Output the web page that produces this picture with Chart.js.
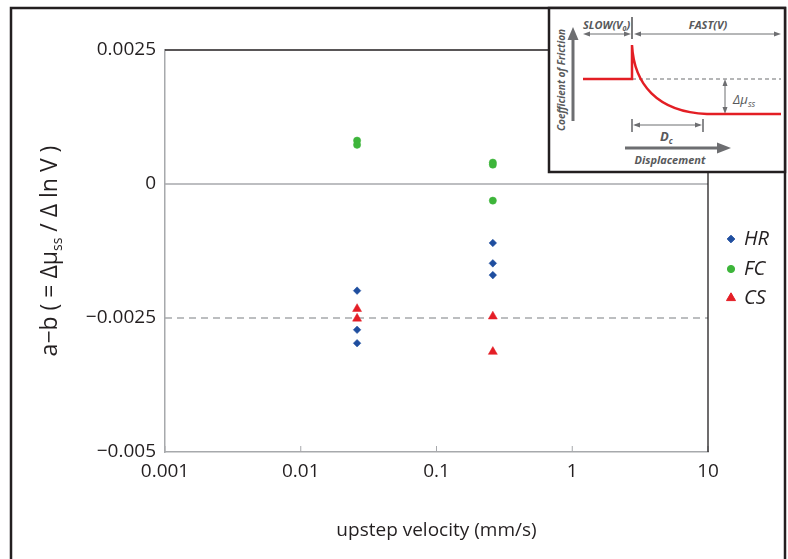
<!DOCTYPE html>
<html>
<head>
<meta charset="utf-8">
<script src="https://cdn.jsdelivr.net/npm/chart.js@4.4.0/dist/chart.umd.min.js"></script>
<style>
  body { margin: 0; background: #fff; }
  #wrap { position: relative; width: 788px; height: 559px; overflow: hidden; }
  #chart, #inset { position: absolute; left: 0; top: 0; }
  #inset text { font-family: 'Open Sans', sans-serif; font-style: italic; font-weight: bold; fill: #58595b; }
</style>
</head>
<body>
<div id="wrap">
  <canvas id="chart" width="788" height="559"></canvas>
  <svg id="inset" width="788" height="559">
    <!-- outer frame -->
    <rect x="11" y="8" width="774" height="620" fill="none" stroke="#231f20" stroke-width="2.5"/>
    <!-- schematic box -->
    <rect x="549" y="8" width="236" height="164" fill="#fff" stroke="#231f20" stroke-width="2.5"/>
    <g stroke="#6d6e71" fill="none">
      <line x1="586" y1="34" x2="628" y2="34" stroke-width="1"/>
      <line x1="637" y1="34" x2="778" y2="34" stroke-width="1"/>
      <line x1="632" y1="17" x2="632" y2="39" stroke="#58595b" stroke-width="1.6"/>
      <line x1="573" y1="121" x2="573" y2="38" stroke-width="3"/>
      <line x1="632" y1="79" x2="781" y2="79" stroke-width="1.2" stroke-dasharray="4,3"/>
      <line x1="725" y1="82" x2="725" y2="111" stroke-width="1"/>
      <line x1="632" y1="119" x2="632" y2="132" stroke-width="1.6"/>
      <line x1="703" y1="119" x2="703" y2="132" stroke-width="1.6"/>
      <line x1="635" y1="125" x2="700" y2="125" stroke-width="1"/>
      <line x1="625" y1="148" x2="718" y2="148" stroke-width="3"/>
    </g>
    <g fill="#6d6e71">
      <polygon points="583,34 590,31.5 590,36.5"/>
      <polygon points="631,34 624,31.5 624,36.5"/>
      <polygon points="634,34 641,31.5 641,36.5"/>
      <polygon points="781,34 774,31.5 774,36.5"/>
      <polygon points="573,27 567.5,40 578.5,40"/>
      <polygon points="725,79 722.5,86 727.5,86"/>
      <polygon points="725,114 722.5,107 727.5,107"/>
      <polygon points="633,125 640,122.5 640,127.5"/>
      <polygon points="702,125 695,122.5 695,127.5"/>
      <polygon points="731,148 717,142.5 717,153.5"/>
    </g>
    <path d="M583,79 L632,79 L632,45 C634,84 657,112 707,114 L781,114" fill="none" stroke="#e31e24" stroke-width="2.5"/>
    <text x="583" y="29" font-size="11">SLOW(V<tspan font-size="7" dy="2">0</tspan><tspan dy="-2">)</tspan></text>
    <text x="708" y="29" font-size="11" text-anchor="middle">FAST(V)</text>
    <text transform="translate(565,80) rotate(-90)" font-size="10" text-anchor="middle">Coefficient of Friction</text>
    <text x="733" y="104" font-size="13" style="font-weight:normal">Δμ<tspan font-size="8.5" dy="3">ss</tspan></text>
    <text x="660" y="141" font-size="13">D<tspan font-size="8" dy="3">c</tspan></text>
    <text x="670" y="164" font-size="11" text-anchor="middle">Displacement</text>
  </svg>
</div>
<script>
const hrX = [0.026, 0.026, 0.026, 0.26, 0.26, 0.26];
const hrY = [-0.00199, -0.00272, -0.00297, -0.00110, -0.00148, -0.00170];
const fcX = [0.026, 0.026, 0.26, 0.26, 0.26];
const fcY = [0.00081, 0.00073, 0.00040, 0.00036, -0.00031];
const csX = [0.026, 0.026, 0.26, 0.26];
const csY = [-0.00233, -0.00251, -0.00247, -0.00313];

const xTicks = [0.001, 0.01, 0.1, 1, 10];
const xTickLabels = ['0.001', '0.01', '0.1', '1', '10'];
const yTicks = [0.0025, 0, -0.0025, -0.005];
const yTickLabels = ['0.0025', '0', '\u22120.0025', '\u22120.005'];

const FONT = "'Open Sans', sans-serif";
const INK = '#231f20';
const AXIS_GREY = '#a7a9ac';

const toPoints = (xs, ys) => xs.map((x, i) => ({ x: x, y: ys[i] }));

const series = [
    { label: 'HR', data: toPoints(hrX, hrY), color: '#1f4e9f', style: 'rectRot', radius: 3.8 },
    { label: 'FC', data: toPoints(fcX, fcY), color: '#3db53a', style: 'circle', radius: 3.6 },
    { label: 'CS', data: toPoints(csX, csY), color: '#e41e26', style: 'triangle', radius: 5.2 }
];

const decorations = {
    id: 'decorations',
    beforeDatasetsDraw(chart) {
        const { ctx, chartArea: area, scales } = chart;
        const y = scales.y, x = scales.x;
        ctx.save();
        // zero line
        ctx.strokeStyle = AXIS_GREY;
        ctx.lineWidth = 1.5;
        ctx.beginPath();
        ctx.moveTo(area.left, y.getPixelForValue(0));
        ctx.lineTo(area.right, y.getPixelForValue(0));
        ctx.stroke();
        // dashed line at -0.0025
        ctx.setLineDash([7, 5]);
        ctx.beginPath();
        ctx.moveTo(area.left, y.getPixelForValue(-0.0025));
        ctx.lineTo(area.right, y.getPixelForValue(-0.0025));
        ctx.stroke();
        ctx.setLineDash([]);
        // inner tick marks on the x axis
        ctx.lineWidth = 1;
        xTicks.forEach(v => {
            const px = x.getPixelForValue(v);
            ctx.beginPath();
            ctx.moveTo(px, area.bottom);
            ctx.lineTo(px, area.bottom - 6);
            ctx.stroke();
        });
        // top and right frame
        ctx.strokeStyle = INK;
        ctx.lineWidth = 1.3;
        ctx.beginPath();
        ctx.moveTo(area.left, area.top);
        ctx.lineTo(area.right, area.top);
        ctx.lineTo(area.right, area.bottom);
        ctx.stroke();
        ctx.restore();
    },
    afterDraw(chart) {
        const { ctx, chartArea: area } = chart;
        ctx.save();
        ctx.fillStyle = INK;

        // x title
        ctx.font = '19px ' + FONT;
        ctx.textAlign = 'center';
        ctx.textBaseline = 'middle';
        ctx.fillText('upstep velocity (mm/s)', (area.left + area.right) / 2, 531);

        // y title with subscript
        const big = '23px ' + FONT, small = '14px ' + FONT;
        const part1 = 'a\u2212b ( = \u0394\u03bc', sub = 'ss', part2 = ' / \u0394 ln V )';
        ctx.font = big;
        const w1 = ctx.measureText(part1).width, w3 = ctx.measureText(part2).width;
        ctx.font = small;
        const w2 = ctx.measureText(sub).width;
        const total = w1 + w2 + w3;
        ctx.translate(57, 251);
        ctx.rotate(-Math.PI / 2);
        ctx.textAlign = 'left';
        ctx.textBaseline = 'alphabetic';
        let pos = -total / 2;
        ctx.font = big;
        ctx.fillText(part1, pos, 0);
        pos += w1;
        ctx.font = small;
        ctx.fillText(sub, pos, 5);
        pos += w2;
        ctx.font = big;
        ctx.fillText(part2, pos, 0);
        ctx.restore();

        // legend
        ctx.save();
        const rows = [239, 269, 298];
        chart.data.datasets.forEach((ds, i) => {
            ctx.fillStyle = ds.backgroundColor;
            ctx.strokeStyle = ds.borderColor;
            Chart.helpers.drawPoint(ctx, {
                pointStyle: ds.pointStyle,
                radius: ds.pointRadius,
                borderWidth: 0.5,
                rotation: 0
            }, 731, rows[i]);
            ctx.fillStyle = INK;
            ctx.font = 'italic 20px ' + FONT;
            ctx.textAlign = 'left';
            ctx.textBaseline = 'middle';
            ctx.fillText(ds.label, 744, rows[i]);
        });
        ctx.restore();
    }
};

new Chart(document.getElementById('chart'), {
    type: 'scatter',
    data: {
        datasets: series.map(s => ({
            label: s.label,
            data: s.data,
            pointStyle: s.style,
            pointRadius: s.radius,
            pointHoverRadius: s.radius,
            backgroundColor: s.color,
            borderColor: s.color,
            borderWidth: 0.5
        }))
    },
    options: {
        responsive: false,
        animation: false,
        layout: { padding: { top: 50, right: 80, left: 0, bottom: 0 } },
        plugins: {
            legend: { display: false },
            tooltip: { enabled: false }
        },
        scales: {
            x: {
                type: 'logarithmic',
                min: 0.001,
                max: 10,
                afterBuildTicks: scale => { scale.ticks = xTicks.map(v => ({ value: v })); },
                afterFit: scale => { scale.height = 107; },
                ticks: {
                    autoSkip: false,
                    maxRotation: 0,
                    padding: 8,
                    color: INK,
                    font: { family: FONT, size: 19 },
                    callback: value => xTickLabels[xTicks.indexOf(value)]
                },
                grid: { display: false, drawTicks: false },
                border: { color: AXIS_GREY, width: 1.5 }
            },
            y: {
                min: -0.005,
                max: 0.0025,
                afterBuildTicks: scale => { scale.ticks = yTicks.map(v => ({ value: v })); },
                afterFit: scale => { scale.width = 165; },
                ticks: {
                    padding: 9,
                    color: INK,
                    font: { family: FONT, size: 19 },
                    callback: value => yTickLabels[yTicks.indexOf(value)]
                },
                grid: { display: false, drawTicks: false },
                border: { color: AXIS_GREY, width: 1.5 }
            }
        }
    },
    plugins: [decorations]
});
</script>
</body>
</html>
